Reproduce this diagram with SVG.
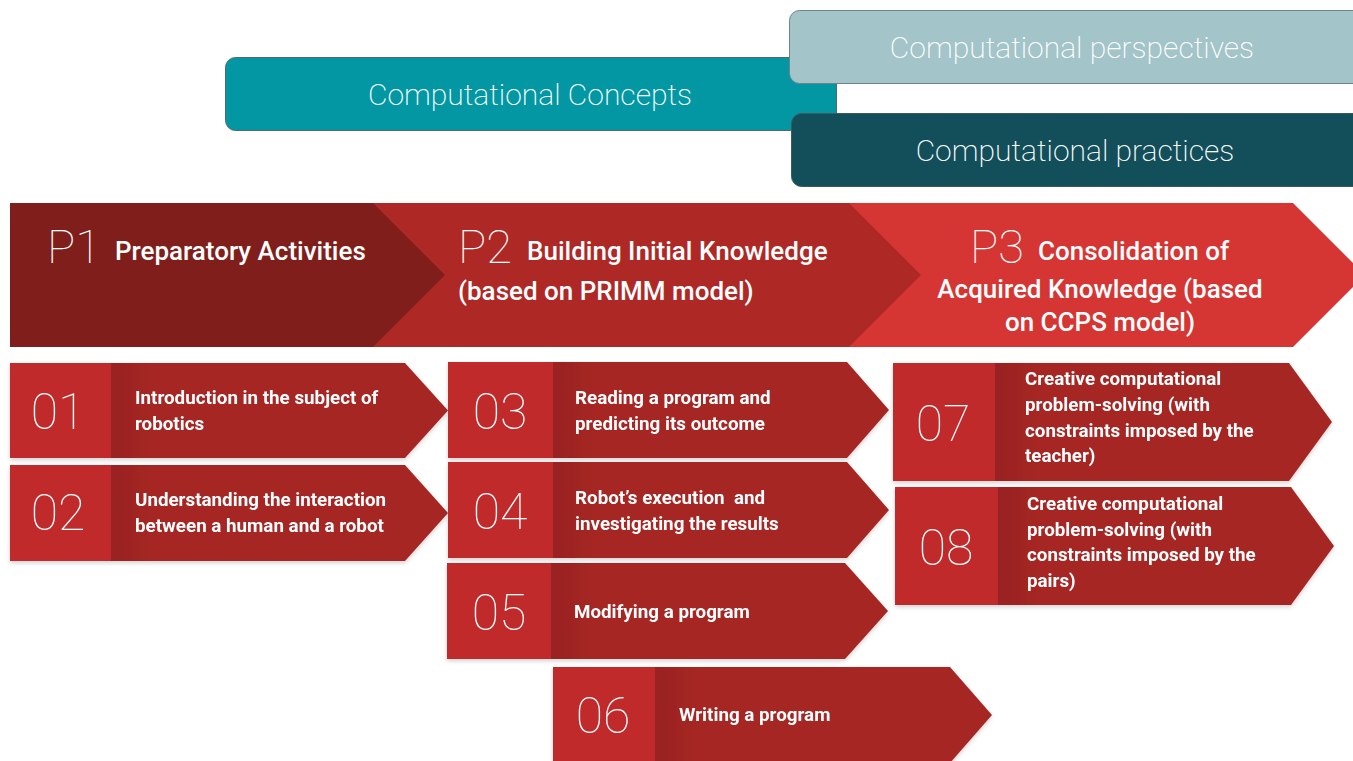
<svg xmlns="http://www.w3.org/2000/svg" width="1353" height="761" viewBox="0 0 1353 761">
<defs>
<linearGradient id="bodyShade" x1="0" y1="0" x2="1" y2="0">
<stop offset="0" stop-color="#8f1f1d" stop-opacity="0.55"/>
<stop offset="1" stop-color="#8f1f1d" stop-opacity="0"/>
</linearGradient>
<filter id="sh" x="-5%" y="-5%" width="110%" height="115%">
<feDropShadow dx="0" dy="2" stdDeviation="2" flood-color="#000" flood-opacity="0.18"/>
</filter>
</defs>
<style>
.thin{font-family:Roboto,"Liberation Sans",sans-serif;font-weight:200;fill:#fff}
.top{font-size:30px;text-anchor:middle}
.pnum{font-size:47px;font-weight:100}
.ph{font-family:Roboto,"Liberation Sans",sans-serif;font-weight:500;font-size:26px;fill:#fff}
.num{font-size:50px;font-weight:100;text-anchor:middle}
.lbl{font-family:Roboto,"Liberation Sans",sans-serif;font-weight:700;font-size:18.8px;fill:#fff;white-space:pre}
.nbox{fill:#c0292a}
.body{fill:#a52624}
</style>
<rect width="1353" height="761" fill="#fff"/>
<g id="concepts">
<rect x="225.5" y="57.5" width="611" height="73" rx="10" fill="#0397a4" stroke="#4f6a6e" stroke-width="1"/>
<text class="thin top" x="530" y="105">Computational Concepts</text>
</g>
<g id="perspectives">
<rect x="789.5" y="10.5" width="580" height="73" rx="10" fill="#a3c4c9" stroke="#6e8487" stroke-width="1"/>
<text class="thin top" x="1072" y="58">Computational perspectives</text>
</g>
<g id="practices">
<rect x="791.5" y="113.5" width="580" height="73" rx="10" fill="#134f5b" stroke="#3c5a60" stroke-width="1"/>
<text class="thin top" x="1075" y="161">Computational practices</text>
</g>
<g id="P3">
<polygon points="849,203 1293,203 1365,275 1293,347 849,347" fill="#d63633"/>
<text class="thin pnum" x="970" y="263">P3</text>
<text class="ph" x="1038" y="260">Consolidation of</text>
<text class="ph" x="1100" y="298" text-anchor="middle">Acquired Knowledge (based</text>
<text class="ph" x="1100" y="331" text-anchor="middle">on CCPS model)</text>
</g>
<g id="P2">
<polygon points="373,203 849,203 921,275 849,347 373,347" fill="#ae2826"/>
<text class="thin pnum" x="458" y="263">P2</text>
<text class="ph" x="527" y="260">Building Initial Knowledge</text>
<text class="ph" x="458" y="300">(based on PRIMM model)</text>
</g>
<g id="P1">
<polygon points="10,203 373,203 445,275 373,347 10,347" fill="#7f1e1b"/>
<text class="thin pnum" x="47" y="263">P1</text>
<text class="ph" x="115" y="260">Preparatory Activities</text>
</g>
<g id="s01" filter="url(#sh)">
<polygon class="body" points="111,363 405,363 448,410.5 405,458 111,458"/>
<rect x="111" y="363" width="40" height="95" fill="url(#bodyShade)"/>
<rect class="nbox" x="10" y="363" width="101" height="95"/>
<text class="thin num" x="58" y="429">01</text>
<text class="lbl" x="135" y="404">Introduction in the subject of</text>
<text class="lbl" x="135" y="430">robotics</text>
</g>
<g id="s02" filter="url(#sh)">
<polygon class="body" points="111,465 405,465 448,513 405,561 111,561"/>
<rect x="111" y="465" width="40" height="96" fill="url(#bodyShade)"/>
<rect class="nbox" x="10" y="465" width="101" height="96"/>
<text class="thin num" x="58" y="530">02</text>
<text class="lbl" x="135" y="506">Understanding the interaction</text>
<text class="lbl" x="135" y="532">between a human and a robot</text>
</g>
<g id="s03" filter="url(#sh)">
<polygon class="body" points="553,362 847,362 889,410 847,458 553,458"/>
<rect x="553" y="362" width="40" height="96" fill="url(#bodyShade)"/>
<rect class="nbox" x="448" y="362" width="105" height="96"/>
<text class="thin num" x="500" y="429">03</text>
<text class="lbl" x="575" y="404">Reading a program and</text>
<text class="lbl" x="575" y="430">predicting its outcome</text>
</g>
<g id="s04" filter="url(#sh)">
<polygon class="body" points="553,462 847,462 889,510 847,558 553,558"/>
<rect x="553" y="462" width="40" height="96" fill="url(#bodyShade)"/>
<rect class="nbox" x="448" y="462" width="105" height="96"/>
<text class="thin num" x="500" y="529">04</text>
<text class="lbl" x="575" y="504">Robot’s execution  and</text>
<text class="lbl" x="575" y="530">investigating the results</text>
</g>
<g id="s05" filter="url(#sh)">
<polygon class="body" points="551,563 845,563 888,611 845,659 551,659"/>
<rect x="551" y="563" width="40" height="96" fill="url(#bodyShade)"/>
<rect class="nbox" x="447" y="563" width="104" height="96"/>
<text class="thin num" x="499" y="630">05</text>
<text class="lbl" x="574" y="618">Modifying a program</text>
</g>
<g id="s06" filter="url(#sh)">
<polygon class="body" points="655,667 950,667 992,715 950,763 655,763"/>
<rect x="655" y="667" width="40" height="96" fill="url(#bodyShade)"/>
<rect class="nbox" x="553" y="667" width="102" height="96"/>
<text class="thin num" x="603" y="733">06</text>
<text class="lbl" x="679" y="721">Writing a program</text>
</g>
<g id="s07" filter="url(#sh)">
<polygon class="body" points="995,363 1289,363 1332,422 1289,481 995,481"/>
<rect x="995" y="363" width="40" height="118" fill="url(#bodyShade)"/>
<rect class="nbox" x="893" y="363" width="102" height="118"/>
<text class="thin num" x="943" y="441">07</text>
<text class="lbl" x="1025" y="385">Creative computational</text>
<text class="lbl" x="1025" y="411">problem-solving (with</text>
<text class="lbl" x="1025" y="437">constraints imposed by the</text>
<text class="lbl" x="1025" y="462">teacher)</text>
</g>
<g id="s08" filter="url(#sh)">
<polygon class="body" points="998,487 1291,487 1334,546 1291,605 998,605"/>
<rect x="998" y="487" width="40" height="118" fill="url(#bodyShade)"/>
<rect class="nbox" x="895" y="487" width="103" height="118"/>
<text class="thin num" x="946" y="565">08</text>
<text class="lbl" x="1027" y="510">Creative computational</text>
<text class="lbl" x="1027" y="536">problem-solving (with</text>
<text class="lbl" x="1027" y="561">constraints imposed by the</text>
<text class="lbl" x="1027" y="587">pairs)</text>
</g>
<g id="connectors"/>
</svg>
